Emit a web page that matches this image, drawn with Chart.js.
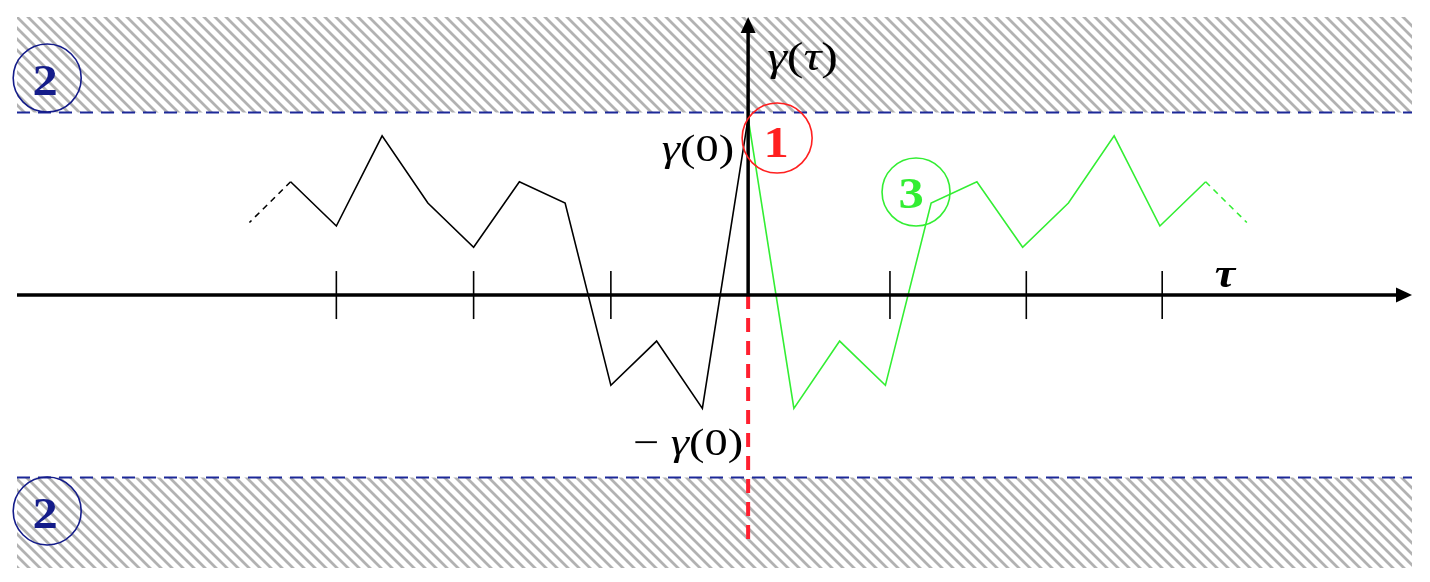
<!DOCTYPE html>
<html><head><meta charset="utf-8">
<script src="https://cdn.jsdelivr.net/npm/chart.js@4.4.1/dist/chart.umd.min.js"></script>
<style>html,body{margin:0;padding:0;background:#fff}#wrap{width:1430px;height:582px;position:relative}</style>
</head><body><div id="wrap"><canvas id="c"></canvas></div>
<script>
// ---- data ----
const lags = [0, 1, 2, 3, 4, 5, 6, 7, 8, 9, 10];
const acf = [1.0, -0.64, -0.26, -0.51, 0.52, 0.64, 0.27, 0.52, 0.90, 0.39, 0.64];
const tailLags = [10, 10.9];
const tailAcf = [0.64, 0.41];
const tickLags = [-9, -6, -3, 3.1, 6.08, 9.05];
const bandLevels = [1.031, -1.031];
const xLimits = [-15.98, 14.51];
const yLimits = [-1.542, 1.571];
const redLineRange = [0, -1.42];

const ctxMain = document.getElementById('c').getContext('2d');
function makeHatch() {
  const c = document.createElement('canvas');
  c.width = 11; c.height = 11;
  const g = c.getContext('2d');
  g.strokeStyle = '#b2b2b2';
  g.lineWidth = 2.8;
  g.beginPath();
  g.moveTo(-5, -5); g.lineTo(16, 16);
  g.moveTo(6, -5); g.lineTo(16, 5);
  g.moveTo(-5, 6); g.lineTo(5, 16);
  g.stroke();
  return ctxMain.createPattern(c, 'repeat');
}
const hatch = makeHatch();

const blackPts = lags.map((k, i) => ({ x: -k, y: acf[i] }));
const greenPts = lags.map((k, i) => ({ x: k, y: acf[i] }));
const blackTail = tailLags.map((k, i) => ({ x: -k, y: tailAcf[i] }));
const greenTail = tailLags.map((k, i) => ({ x: k, y: tailAcf[i] }));

function line(data, color, width, dash, order, extra) {
  return Object.assign({ data, borderColor: color, borderWidth: width, borderDash: dash || [],
    pointRadius: 0, showLine: true, fill: false, order, tension: 0 }, extra || {});
}

const datasets = [
  line([{ x: xLimits[0], y: yLimits[1] }, { x: xLimits[1], y: yLimits[1] }], 'rgba(0,0,0,0)', 0, null, 20,
    { fill: { value: bandLevels[0] }, backgroundColor: hatch }),
  line([{ x: xLimits[0], y: yLimits[0] }, { x: xLimits[1], y: yLimits[0] }], 'rgba(0,0,0,0)', 0, null, 20,
    { fill: { value: bandLevels[1] }, backgroundColor: hatch }),
  line([{ x: xLimits[0], y: bandLevels[0] }, { x: xLimits[1], y: bandLevels[0] }], '#1c2898', 2, [13, 8], 15),
  line([{ x: xLimits[0], y: bandLevels[1] }, { x: xLimits[1], y: bandLevels[1] }], '#1c2898', 2, [13, 8], 15),
  line([{ x: 0, y: redLineRange[0] }, { x: 0, y: redLineRange[1] }], '#ff1f2f', 4, [14, 9], 12),
  line(blackPts, '#000000', 1.6, null, 5),
  line(blackTail, '#000000', 1.6, [6, 5], 5),
  line(greenPts, '#33ee33', 1.6, null, 4),
  line(greenTail, '#33ee33', 1.6, [6, 5], 4)
];

const circles = [
  { x: 0.634, y: 0.887, r: 35, color: '#ff2020', label: '1', tx: -1, ty: 19 },
  { x: 3.67, y: 0.582, r: 34, color: '#33ee33', label: '3', tx: -5, ty: 16 },
  { x: -15.32, y: 1.226, r: 34, color: '#141c8a', label: '2', tx: -2, ty: 17 },
  { x: -15.32, y: -1.220, r: 34, color: '#141c8a', label: '2', tx: -2, ty: 17 }
];

function drawMath(ctx, parts, x, y, align, size, sx, color, bold) {
  ctx.save();
  ctx.translate(x, y);
  ctx.scale(sx, 1);
  ctx.fillStyle = color;
  ctx.textBaseline = 'alphabetic';
  ctx.textAlign = 'left';
  const fonts = parts.map(p => (p[1] ? 'italic ' : '') + (bold ? 'bold ' : '') + size + 'px "Liberation Serif", serif');
  let total = 0;
  const widths = parts.map((p, i) => { ctx.font = fonts[i]; const w = ctx.measureText(p[0]).width; total += w; return w; });
  let cx = align === 'right' ? -total : align === 'center' ? -total / 2 : 0;
  parts.forEach((p, i) => { ctx.font = fonts[i]; ctx.fillText(p[0], cx, 0); cx += widths[i]; });
  ctx.restore();
}

const overlay = {
  id: 'overlay',
  afterDatasetsDraw(chart) {
    const ctx = chart.ctx;
    const xs = chart.scales.x, ys = chart.scales.y;
    const x0 = xs.getPixelForValue(0), y0 = ys.getPixelForValue(0);
    const left = xs.getPixelForValue(xLimits[0]), right = xs.getPixelForValue(xLimits[1]);
    const top = ys.getPixelForValue(yLimits[1]);
    ctx.save();
    ctx.strokeStyle = '#000'; ctx.fillStyle = '#000';
    // x axis
    ctx.lineWidth = 3.5;
    ctx.beginPath(); ctx.moveTo(left, y0); ctx.lineTo(right - 12, y0); ctx.stroke();
    ctx.beginPath(); ctx.moveTo(right, y0); ctx.lineTo(right - 16, y0 - 7.5); ctx.lineTo(right - 16, y0 + 7.5); ctx.closePath(); ctx.fill();
    // y axis
    ctx.beginPath(); ctx.moveTo(x0, y0 + 1); ctx.lineTo(x0, top + 12); ctx.stroke();
    ctx.beginPath(); ctx.moveTo(x0, top); ctx.lineTo(x0 - 7.5, top + 16); ctx.lineTo(x0 + 7.5, top + 16); ctx.closePath(); ctx.fill();
    // ticks
    ctx.lineWidth = 1.6;
    tickLags.forEach(t => {
      const px = xs.getPixelForValue(t);
      ctx.beginPath(); ctx.moveTo(px, y0 - 24); ctx.lineTo(px, y0 + 24); ctx.stroke();
    });
    // circles
    circles.forEach(c => {
      const cx = xs.getPixelForValue(c.x), cy = ys.getPixelForValue(c.y);
      ctx.strokeStyle = c.color; ctx.lineWidth = 1.6;
      ctx.beginPath(); ctx.arc(cx, cy, c.r, 0, Math.PI * 2); ctx.stroke();
      drawMath(ctx, [[c.label, false]], cx + c.tx, cy + c.ty, 'center', 44, 1.15, c.color, true);
    });
    // labels
    drawMath(ctx, [['γ', true], ['(', false], ['τ', true], [')', false]], x0 + 19, top + 53, 'left', 39, 1.28, '#000');
    drawMath(ctx, [['γ', true], ['(0)', false]], x0 - 14, ys.getPixelForValue(acf[0]) + 43, 'right', 38, 1.22, '#000');
    drawMath(ctx, [['− ', false], ['γ', true], ['(0)', false]], x0 - 5, ys.getPixelForValue(-acf[0]) - 17, 'right', 38, 1.22, '#000');
    drawMath(ctx, [['τ', true]], xs.getPixelForValue(10.2), y0 - 8, 'left', 40, 1.15, '#000', true);
    ctx.restore();
  }
};

new Chart(ctxMain, {
  type: 'scatter',
  data: { datasets },
  options: {
    responsive: true, maintainAspectRatio: false, animation: false,
    layout: { padding: { left: 17, right: 18, top: 17, bottom: 14 } },
    scales: {
      x: { type: 'linear', min: xLimits[0], max: xLimits[1], display: false },
      y: { type: 'linear', min: yLimits[0], max: yLimits[1], display: false }
    },
    plugins: { legend: { display: false }, tooltip: { enabled: false } },
    events: []
  },
  plugins: [overlay]
});
</script></body></html>
